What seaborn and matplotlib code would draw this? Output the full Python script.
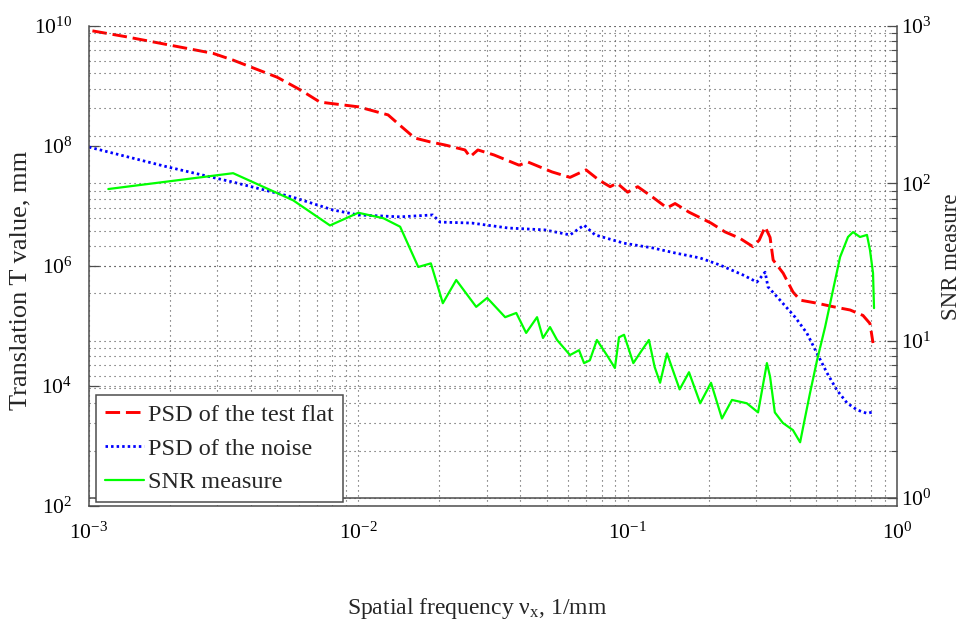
"""
PSD of the test flat / PSD of the noise / SNR measure
log-log, second y axis on the right for the SNR
"""
import numpy as np
import matplotlib
matplotlib.use("Agg")
import matplotlib.pyplot as plt
import matplotlib.ticker as mticker
import seaborn as sns

# ---- data --------------------------------------------------------------
freq_flat = [0.00103, 0.00138, 0.0020, 0.00289, 0.00343, 0.0050, 0.0061, 0.0072,
             0.0100, 0.0129, 0.0143, 0.0162, 0.0185, 0.0210, 0.0249, 0.0260,
             0.0278, 0.0319, 0.0395, 0.0427, 0.0524, 0.0611, 0.0701, 0.0783,
             0.0861, 0.0914, 0.100, 0.109, 0.124, 0.140, 0.150, 0.169, 0.204,
             0.230, 0.261, 0.292, 0.308, 0.324, 0.338, 0.347, 0.378, 0.411,
             0.437, 0.505, 0.579, 0.670, 0.748, 0.794, 0.815]
psd_flat = [8.3e9, 6.6e9, 4.8e9, 3.5e9, 2.7e9, 1.4e9, 8.6e8, 5.4e8,
            4.5e8, 3.3e8, 2.2e8, 1.36e8, 1.17e8, 1.04e8, 8.6e7, 6.6e7,
            8.6e7, 7.1e7, 4.8e7, 5.4e7, 3.7e7, 3.0e7, 4.0e7, 2.7e7,
            2.1e7, 2.4e7, 1.7e7, 2.1e7, 1.4e7, 9.3e6, 1.1e7, 7.9e6, 5.2e6,
            3.7e6, 2.9e6, 2.1e6, 2.7e6, 4.5e6, 3.0e6, 1.26e6, 7.6e5, 3.7e5,
            2.7e5, 2.4e5, 2.1e5, 1.85e5, 1.5e5, 1.1e5, 5.2e4]

freq_noise = [0.0010, 0.00195, 0.00343, 0.00573, 0.00805, 0.0100, 0.0143, 0.0189,
              0.0201, 0.0264, 0.0360, 0.0493, 0.0611, 0.0689, 0.0757, 0.097,
              0.124, 0.150, 0.186, 0.220, 0.268, 0.302, 0.324, 0.332, 0.368,
              0.419, 0.463, 0.505, 0.550, 0.598, 0.653, 0.711, 0.774, 0.815]
psd_noise = [9.6e7, 4.5e7, 2.5e7, 1.4e7, 8.6e6, 7.1e6, 6.6e6, 7.1e6,
             5.4e6, 5.2e6, 4.3e6, 4.0e6, 3.3e6, 4.8e6, 3.3e6, 2.4e6,
             2.0e6, 1.65e6, 1.36e6, 1.04e6, 7.1e5, 5.4e5, 7.9e5, 4.5e5, 2.7e5,
             1.4e5, 7.6e4, 3.5e4, 1.65e4, 8.6e3, 5.2e3, 4.0e3, 3.5e3, 3.7e3]

freq_snr = [0.00118, 0.00343, 0.00573, 0.00785, 0.0100, 0.0124, 0.0143, 0.0167,
            0.0186, 0.0206, 0.0231, 0.0274, 0.0301, 0.0351, 0.0386, 0.0420,
            0.0461, 0.0485, 0.0515, 0.0547, 0.0611, 0.0660, 0.0689, 0.0724,
            0.0769, 0.0845, 0.0897, 0.0929, 0.097, 0.105, 0.113, 0.120, 0.126,
            0.132, 0.140, 0.156, 0.169, 0.186, 0.204, 0.224, 0.244, 0.277,
            0.305, 0.329, 0.338, 0.352, 0.377, 0.411, 0.437, 0.448, 0.475,
            0.505, 0.541, 0.579, 0.615, 0.658, 0.687, 0.729, 0.774, 0.794,
            0.815, 0.822]
snr = [92, 116, 78, 54, 65, 60, 53, 29.4,
       31, 17.3, 24.3, 16.4, 18.7, 14.1, 15, 11.2,
       14.1, 10.4, 12.2, 10.1, 8.1, 8.7, 7.2, 7.5,
       10.1, 7.9, 6.7, 10.5, 10.9, 7.2, 8.7, 10.1, 6.8,
       5.4, 8.3, 4.9, 6.3, 4.0, 5.4, 3.2, 4.2, 4.0,
       3.5, 7.2, 5.9, 3.5, 3.0, 2.7, 2.26, 2.8, 4.6,
       7.5, 12.2, 21, 34, 45.6, 49, 45.6, 47, 37.7,
       26.9, 16.1]

labels = ["PSD of the test flat", "PSD of the noise", "SNR measure"]

# ---- style ---------------------------------------------------------------
sns.set_theme(style="white")
plt.rcParams["font.family"] = ["Liberation Serif", "DejaVu Serif"]
plt.rcParams["mathtext.fontset"] = "custom"
plt.rcParams["mathtext.rm"] = "Liberation Serif"
plt.rcParams["mathtext.it"] = "Liberation Serif:italic"
plt.rcParams["mathtext.default"] = "regular"
plt.rcParams["axes.unicode_minus"] = False

grid_kw = dict(color="0.3", linestyle=(0, (1, 3.5)), linewidth=0.8)

fig = plt.figure(figsize=(9.68, 6.33), dpi=100)
ax1 = fig.add_axes([0.0919, 0.2006, 0.8347, 0.7583])
ax2 = ax1.twinx()
ax1.set(xscale="log", yscale="log")
ax2.set_yscale("log")

sns.lineplot(x=freq_flat, y=psd_flat, ax=ax1, color="#ff0000", linewidth=2.1,
             linestyle=(0, (5.0, 2.0)), label=labels[0], legend=False,
             estimator=None, errorbar=None)
sns.lineplot(x=freq_noise, y=psd_noise, ax=ax1, color="#0000ff", linewidth=2.0,
             linestyle=(0, (0.9, 1.1)), label=labels[1], legend=False,
             estimator=None, errorbar=None)
sns.lineplot(x=freq_snr, y=snr, ax=ax2, color="#00ff00", linewidth=1.6,
             label=labels[2], legend=False, estimator=None, errorbar=None)

ax1.set_xlim(1e-3, 1)
ax1.set_ylim(1e2, 1e10)
ax2.set_ylim(0.889, 1e3)

# ticks
ax1.xaxis.set_major_locator(mticker.LogLocator(base=10, numticks=10))
ax1.xaxis.set_minor_locator(mticker.LogLocator(base=10, subs=np.arange(2, 10), numticks=10))
ax1.xaxis.set_major_formatter(mticker.LogFormatterMathtext())
ax1.yaxis.set_major_locator(mticker.FixedLocator([1e2, 1e4, 1e6, 1e8, 1e10]))
ax1.yaxis.set_minor_locator(mticker.NullLocator())
ax1.yaxis.set_major_formatter(mticker.LogFormatterMathtext())
ax2.yaxis.set_major_locator(mticker.FixedLocator([1, 10, 100, 1000]))
ax2.yaxis.set_minor_locator(mticker.FixedLocator([k * 10 ** e for e in range(3) for k in range(2, 10)]))
ax2.yaxis.set_major_formatter(mticker.LogFormatterMathtext())

ax1.tick_params(which="both", direction="in", top=False, right=False,
                color="0.3", labelcolor="black", labelsize=15.5)
ax1.tick_params(which="major", length=7, width=0.9)
ax1.tick_params(which="minor", length=4, width=0.8)
ax1.tick_params(axis="y", pad=12)
ax1.tick_params(axis="x", pad=12)
ax2.tick_params(axis="y", which="both", direction="in", right=True, left=False,
                color="0.3", labelcolor="black", labelsize=15.5, pad=3)
ax2.tick_params(axis="y", which="major", length=7, width=0.9)
ax2.tick_params(axis="y", which="minor", length=4, width=0.8)

# grid
ax1.grid(True, axis="x", which="both", **grid_kw)
ax1.grid(True, axis="y", which="major", **grid_kw)
ax2.grid(True, axis="y", which="both", **grid_kw)

# spines
for s in ["top", "right"]:
    ax1.spines[s].set_visible(False)
for s in ["top", "left", "bottom"]:
    ax2.spines[s].set_visible(False)
for s in ["left", "bottom"]:
    ax1.spines[s].set_color("0.3")
    ax1.spines[s].set_linewidth(1.1)
ax2.spines["right"].set_color("0.3")
ax2.spines["right"].set_linewidth(1.1)
# bottom edge of the right-hand axis (10^0)
ax2.axhline(1, color="0.3", linewidth=1.1, zorder=2.5)

# labels
ax1.set_xlabel(r"Spatial frequency $\mathregular{ν_x}$, 1/mm", fontsize=17, va="center")
ax1.xaxis.set_label_coords(0.480, -0.2125)
ax1.set_ylabel("Translation T value, mm", fontsize=19, va="center")
ax1.yaxis.set_label_coords(-0.0842, 0.471)
ax2.set_ylabel("SNR measure", fontsize=16.5, va="center", rotation=90)
ax2.yaxis.set_label_coords(1.068, 0.519)

# legend
h1, l1 = ax1.get_legend_handles_labels()
h2, l2 = ax2.get_legend_handles_labels()
leg = ax2.legend(h1 + h2, l1 + l2, loc="lower left", bbox_to_anchor=(0.0087, 0.0083),
                 borderaxespad=0, fontsize=17.5, frameon=True, fancybox=False,
                 framealpha=1, edgecolor="0.3", handlelength=1.6, handletextpad=0.2,
                 labelspacing=0.48, borderpad=0.36)
leg.get_frame().set_linewidth(1.1)

fig.savefig("out.png", dpi=100)
print("done")
